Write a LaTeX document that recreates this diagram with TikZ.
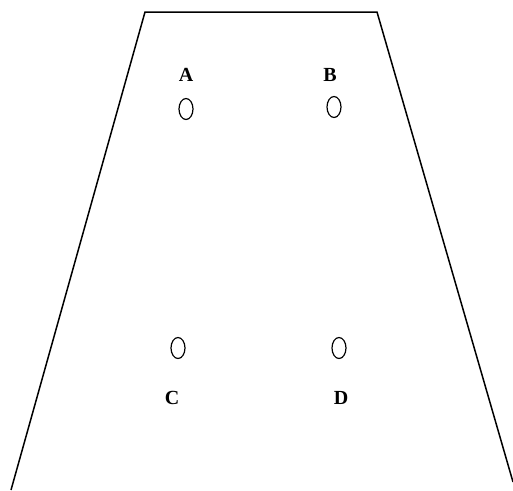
\documentclass[tikz,border=0pt]{standalone}
\usepackage{fontspec}
\setmainfont{Liberation Serif}
\usetikzlibrary{positioning,shapes.geometric}

\begin{document}
\begin{tikzpicture}[
  x=1pt, y=-1pt,
  hole/.style={draw, ellipse, line width=1.2pt, inner sep=0pt,
               minimum width=14pt, minimum height=21pt},
  lab/.style={font=\fontsize{20}{24}\selectfont\bfseries, inner sep=0pt},
  wall/.style={line width=1.5pt, line join=miter}
]
\useasboundingbox (0,0) rectangle (513,490);

% ---------- outline ----------
\coordinate (tl) at (145,12);
\coordinate (tr) at (377,12);
\coordinate (br) at (513,482);
\coordinate (bl) at (11,490);
\draw[wall] (bl) -- (tl) -- (tr) -- (br);

% ---------- holes ----------
\node[hole] (holeA) at (186,109) {};
\node[hole] (holeB) at (334,107) {};
\node[hole] (holeC) at (178,348) {};
\node[hole] (holeD) at (339,348) {};

% ---------- labels ----------
\node[lab, above=16pt of holeA] (labA) {A};
\node[lab, above=14pt of holeB, xshift=-4pt] (labB) {B};
\node[lab, below=32pt of holeC, xshift=-6pt] (labC) {C};
\node[lab, below=32pt of holeD, xshift=2pt] (labD) {D};

\end{tikzpicture}
\end{document}
